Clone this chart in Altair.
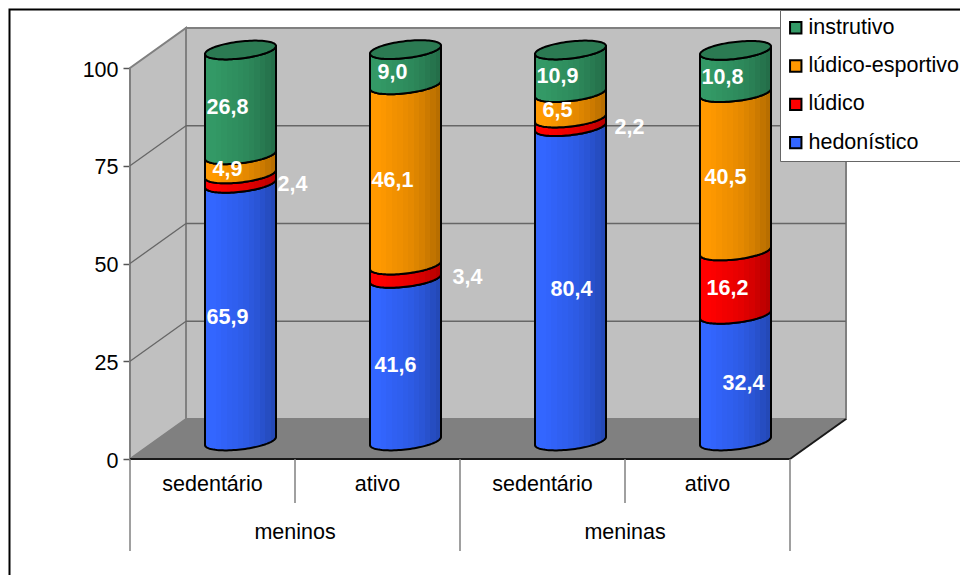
import math
import altair as alt
import pandas as pd

# Source values, percentage of each activity type per group
series_names = ["hedonístico", "lúdico", "lúdico-esportivo", "instrutivo"]
series_colors = ["#3366FF", "#FF0000", "#FF9900", "#339966"]
activity = ["sedentário", "ativo", "sedentário", "ativo"]
gender = ["meninos", "meninas"]
hedonistico = [65.9, 41.6, 80.4, 32.4]
ludico = [2.4, 3.4, 2.2, 16.2]
ludico_esportivo = [4.9, 46.1, 6.5, 40.5]
instrutivo = [26.8, 9.0, 10.9, 10.8]
value_rows = [hedonistico, ludico, ludico_esportivo, instrutivo]
tick_values = [0, 25, 50, 75, 100]

# Plot geometry: pixels per data unit of each scale
PX_X = 165.0
PX_Y = 3.91
DEPTH_X = 56 / PX_X
DEPTH_Y = 40 / PX_Y
BAR_SHIFT_X = 28 / PX_X
BAR_SHIFT_Y = 18 / PX_Y
RADIUS_X = 35.5 / PX_X
RADIUS_Y = 8.5 / PX_Y
TILT_Y = 4 / PX_Y

FONT = "Liberation Sans"
FS = 21.5

X = alt.Scale(domain=[0, 4], nice=False, zero=False)
Y = alt.Scale(domain=[0, 100], nice=False, zero=False)
Y_AXIS = alt.Axis(
    values=tick_values, format="d", tickSize=7, tickColor="#555555", tickWidth=1.5,
    domainColor="#555555", domainWidth=1.5, labelFont=FONT, labelFontSize=FS,
    labelColor="#000000", labelPadding=5, labelOffset=2, grid=False, title=None,
)


def xy(x="x", y="y", y2=None, x2=None):
    enc = {
        "x": alt.X(f"{x}:Q", scale=X, axis=None, title=None),
        "y": alt.Y(f"{y}:Q", scale=Y, axis=Y_AXIS),
    }
    if y2:
        enc["y2"] = alt.Y2(f"{y2}:Q")
    if x2:
        enc["x2"] = alt.X2(f"{x2}:Q")
    return enc


def shaded(hex_color):
    """Banded horizontal shading that turns a flat colour into a cylinder."""
    r, g, b = (int(hex_color[i:i + 2], 16) for i in (1, 3, 5))
    bands = [1.0, 1.0, 0.99, 0.97, 0.95, 0.94, 0.92, 0.9, 0.87, 0.84, 0.8, 0.76, 0.72]
    stops = []
    for i, f in enumerate(bands):
        col = f"#{int(r * f):02x}{int(g * f):02x}{int(b * f):02x}"
        stops.append(alt.GradientStop(color=col, offset=i / len(bands)))
        stops.append(alt.GradientStop(color=col, offset=(i + 1) / len(bands)))
    return alt.Gradient(gradient="linear", stops=stops, x1=0, x2=1, y1=0, y2=0)


def rim(bar, level):
    """Front and back edges of the tilted cylinder section at a given level."""
    cx = bar + 0.5 + BAR_SHIFT_X
    rows = []
    for k in range(49):
        u = -math.cos(math.pi * k / 48)
        bulge = RADIUS_Y * math.sqrt(max(0.0, 1 - u * u))
        centre = level + BAR_SHIFT_Y + TILT_Y * u
        rows.append({"x": cx + RADIUS_X * u, "front": centre - bulge, "back": centre + bulge})
    return rows


# Cylinder sections, one table per series, each row a sample along the width
section_layers = []
cap_rows = []
label_rows = []
totals = [0.0] * 4
for s, name in enumerate(series_names):
    rows = []
    for b in range(4):
        v = value_rows[s][b]
        low, high = rim(b, totals[b]), rim(b, totals[b] + v)
        for p, q in zip(low, high):
            rows.append({"bar": b, "x": p["x"], "y": p["front"], "y2": q["front"]})
        label_rows.append({
            "bar": b, "series": s, "value": v,
            "x": b + 0.5 + BAR_SHIFT_X,
            "y": totals[b] + v / 2 + BAR_SHIFT_Y,
            "text": f"{v:.1f}".replace(".", ","),
        })
        totals[b] += v
        if s == len(series_names) - 1:
            for p in high:
                cap_rows.append({"bar": b, "x": p["x"], "y": p["front"], "y2": p["back"]})
    df = pd.DataFrame(rows)
    section_layers.append(
        alt.Chart(df)
        .mark_area(fill=shaded(series_colors[s]), stroke="black", strokeWidth=2, strokeJoin="round", opacity=1)
        .encode(detail="bar:N", **xy(y2="y2"))
    )

cap_df = pd.DataFrame(cap_rows)
cap = (
    alt.Chart(cap_df)
    .mark_area(fill="#2b7a52", stroke="black", strokeWidth=2)
    .encode(detail="bar:N", **xy(y2="y2"))
)

# Walls and floor of the box behind the cylinders
back_df = pd.DataFrame([{"x": DEPTH_X, "x2": 4 + DEPTH_X, "y": DEPTH_Y, "y2": 100 + DEPTH_Y}])
back_wall = alt.Chart(back_df).mark_rect(fill="#C0C0C0", stroke="#808080", strokeWidth=2).encode(
    **xy(x2="x2", y2="y2")
)
side_df = pd.DataFrame([
    {"x": 0, "y": 0, "y2": 100},
    {"x": DEPTH_X, "y": DEPTH_Y, "y2": 100 + DEPTH_Y},
])
side_wall = alt.Chart(side_df).mark_area(fill="#C0C0C0", stroke="#808080", strokeWidth=2).encode(
    **xy(y2="y2")
)
floor_df = pd.DataFrame([
    {"x": 0, "y": 0, "y2": 0},
    {"x": DEPTH_X, "y": DEPTH_Y, "y2": 0},
    {"x": 4, "y": DEPTH_Y, "y2": 0},
    {"x": 4 + DEPTH_X, "y": DEPTH_Y, "y2": DEPTH_Y},
])
floor = alt.Chart(floor_df).mark_area(fill="#808080").encode(**xy(y2="y2"))

# Gridlines on the side and back walls
grid_rows = []
for t in tick_values[1:4]:
    grid_rows.append({"x": 0, "x2": DEPTH_X, "y": t, "y2": t + DEPTH_Y})
    grid_rows.append({"x": DEPTH_X, "x2": 4 + DEPTH_X, "y": t + DEPTH_Y, "y2": t + DEPTH_Y})
grid_df = pd.DataFrame(grid_rows)
grid = alt.Chart(grid_df).mark_rule(color="#666666", strokeWidth=1.3).encode(**xy(x2="x2", y2="y2"))

# Front and right floor edges
edge_df = pd.DataFrame([
    {"x": 0, "x2": 4, "y": 0, "y2": 0},
    {"x": 4, "x2": 4 + DEPTH_X, "y": 0, "y2": DEPTH_Y},
])
edges = alt.Chart(edge_df).mark_rule(color="#1a1a1a", strokeWidth=2).encode(**xy(x2="x2", y2="y2"))

# Two-level category axis under the floor
INNER_DROP = -44 / PX_Y
OUTER_DROP = -92 / PX_Y
divider_df = pd.DataFrame(
    [{"x": i, "y": 0, "y2": OUTER_DROP if i % 2 == 0 else INNER_DROP} for i in range(5)]
)
dividers = alt.Chart(divider_df).mark_rule(color="#808080", strokeWidth=1.5).encode(**xy(y2="y2"))
cat_df = pd.DataFrame(
    [{"x": i + 0.5, "y": -26 / PX_Y, "text": a} for i, a in enumerate(activity)]
    + [{"x": 2 * i + 1, "y": -74 / PX_Y, "text": g} for i, g in enumerate(gender)]
)
cat_labels = alt.Chart(cat_df).mark_text(font=FONT, fontSize=FS, color="#000000", baseline="middle").encode(
    text="text:N", **xy()
)

# Value labels: thin sections carry their label beside the cylinder
DEFAULT_DX = -13
LABEL_DX = {
    (0, 1): 52, (1, 1): 62, (2, 1): 59,
    (1, 0): -10, (3, 2): -10, (3, 1): -8,
    (2, 0): 1, (3, 0): 8,
}
label_df = pd.DataFrame(label_rows)
label_df["dx"] = [LABEL_DX.get((r.bar, r.series), DEFAULT_DX) for r in label_df.itertuples()]
label_layers = []
for dx, part in label_df.groupby("dx"):
    label_layers.append(
        alt.Chart(part)
        .mark_text(font=FONT, fontSize=21.5, fontWeight="bold", color="#FFFFFF", baseline="middle", dx=int(dx), dy=6)
        .encode(text="text:N", **xy())
    )

# Legend, listed from the top series down
legend_order = series_names[::-1]
legend_df = pd.DataFrame({"series": series_names, "x": [1.0] * 4, "y": [50.0] * 4})
legend_layer = alt.Chart(legend_df).mark_square(opacity=0, filled=True, size=100).encode(
    fill=alt.Fill(
        "series:N",
        scale=alt.Scale(domain=legend_order, range=series_colors[::-1]),
        legend=alt.Legend(
            title=None, orient="none", legendX=650, legendY=-58, symbolType="square", symbolSize=130,
            symbolOpacity=1, symbolStrokeColor="#000000", symbolStrokeWidth=2, labelFont=FONT,
            labelFontSize=FS, labelColor="#000000", labelLimit=300, rowPadding=15.3, symbolOffset=-2,
            labelOffset=2, fillColor="#FFFFFF", strokeColor="#666666", padding=7,
        ),
    ),
    **xy(),
)

# Outer frame; its right and bottom sides fall outside the page
frame = alt.Chart(pd.DataFrame({"a": [0]})).mark_rect(fill="transparent", stroke="#000000", strokeWidth=2).encode(
    x=alt.value(-120.5), x2=alt.value(900), y=alt.value(-58.5), y2=alt.value(600)
)

chart = alt.layer(
    legend_layer, back_wall, side_wall, grid, floor, edges, dividers, cat_labels,
    *section_layers, cap, *label_layers, frame,
).properties(
    width=660,
    height=391,
    padding={"left": 130, "top": 68, "right": 170, "bottom": 116},
    autosize=alt.AutoSizeParams(type="none"),
    background="#FFFFFF",
).configure_view(stroke=None)

chart.save("out.html", embed_options={"renderer": "svg", "actions": False})
